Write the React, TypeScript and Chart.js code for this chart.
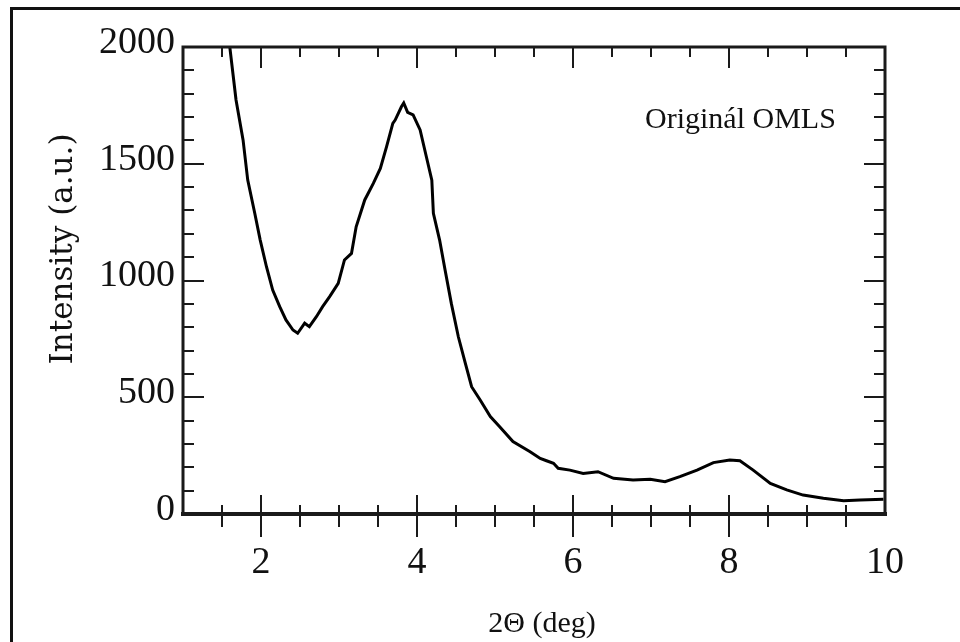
import React, { useEffect, useRef } from "react";
import { Chart, registerables } from "chart.js";

Chart.register(...registerables);

// 2Θ positions (deg)
const twoTheta = [
  1.6, 1.68, 1.77, 1.83, 1.92, 1.99, 2.07, 2.15, 2.24, 2.32, 2.41, 2.47, 2.56, 2.62, 2.71,
  2.79, 2.88, 2.99, 3.07, 3.16, 3.22, 3.33, 3.44, 3.53, 3.61, 3.69, 3.72, 3.8, 3.83, 3.88,
  3.95, 4.04, 4.12, 4.19, 4.21, 4.29, 4.36, 4.44, 4.53, 4.62, 4.7, 4.81, 4.94, 5.06, 5.23,
  5.45, 5.58, 5.66, 5.75, 5.81, 5.96, 6.13, 6.32, 6.52, 6.77, 6.99, 7.18, 7.37, 7.59, 7.8,
  8.01, 8.14, 8.31, 8.53, 8.74, 8.95, 9.21, 9.47, 9.68, 9.98,
];
// Intensity (a.u.)
const intensity = [
  2000, 1773, 1602, 1430, 1288, 1173, 1059, 959, 888, 831, 788, 774, 817, 802, 845,
  888, 931, 988, 1088, 1116, 1230, 1345, 1416, 1480, 1573, 1673, 1687, 1744, 1760, 1720,
  1709, 1645, 1530, 1430, 1288, 1173, 1045, 902, 759, 645, 545, 488, 417, 374, 310,
  267, 238, 228, 217, 196, 188, 174, 181, 153, 146, 149, 138, 160, 188, 220,
  231, 228, 188, 131, 103, 81, 67, 57, 60, 63,
];

const xTickValues = [2, 4, 6, 8, 10];
const yTickValues = [0, 500, 1000, 1500, 2000];
const xAxisTitle = "2Θ (deg)";
const yAxisTitle = "Intensity (a.u.)";
const annotationText = "Originál OMLS";

const SERIF = "'Liberation Serif', 'DejaVu Serif', serif";

export default function App() {
  const ref = useRef<HTMLCanvasElement | null>(null);

  useEffect(() => {
    if (!ref.current) return;

    const decor = {
      id: "decor",
      afterDraw(chart: any) {
        const { ctx, chartArea: a, scales } = chart;
        const xs = scales.x;
        const ys = scales.y;
        ctx.save();
        ctx.strokeStyle = "#1a1a1a";
        ctx.lineCap = "butt";

        // ticks
        ctx.lineWidth = 2;
        for (let k = 3; k < 20; k++) {
          const v = k / 2;
          const px = Math.round(xs.getPixelForValue(v));
          const major = v % 2 === 0;
          ctx.beginPath();
          ctx.moveTo(px, a.bottom - (major ? 19 : 9));
          ctx.lineTo(px, a.bottom + (major ? 23 : 13));
          ctx.stroke();
          ctx.beginPath();
          ctx.moveTo(px, a.top);
          ctx.lineTo(px, a.top + (major ? 21 : 10));
          ctx.stroke();
        }
        for (let v = 100; v < 2000; v += 100) {
          const py = Math.round(ys.getPixelForValue(v));
          const major = v % 500 === 0;
          const len = major ? 21 : 11;
          ctx.beginPath();
          ctx.moveTo(a.left, py);
          ctx.lineTo(a.left + len, py);
          ctx.stroke();
          ctx.beginPath();
          ctx.moveTo(a.right, py);
          ctx.lineTo(a.right - len, py);
          ctx.stroke();
        }

        // frame
        ctx.lineWidth = 3;
        ctx.strokeRect(a.left, a.top, a.right - a.left, a.bottom - a.top);
        ctx.lineWidth = 4;
        ctx.beginPath();
        ctx.moveTo(a.left - 2, a.bottom);
        ctx.lineTo(a.right + 2, a.bottom);
        ctx.stroke();

        // texts
        ctx.fillStyle = "#111";
        ctx.font = `30px ${SERIF}`;
        ctx.textAlign = "left";
        ctx.textBaseline = "alphabetic";
        ctx.fillText(annotationText, 645, 128);

        ctx.textAlign = "center";
        ctx.fillText(xAxisTitle, 542, 632);

        ctx.font = `31px 'DejaVu Serif', 'Liberation Serif', serif`;
        ctx.translate(64, 249);
        ctx.rotate(-Math.PI / 2);
        ctx.textBaseline = "middle";
        ctx.fillText(yAxisTitle, 0, 0);
        ctx.restore();
      },
    };

    const chart = new Chart(ref.current, {
      type: "line",
      data: {
        datasets: [
          {
            data: twoTheta.map((x, i) => ({ x, y: intensity[i] })),
            borderColor: "#000",
            borderWidth: 3,
            pointRadius: 0,
            tension: 0,
            fill: false,
          },
        ],
      },
      options: {
        animation: false,
        responsive: false,
        maintainAspectRatio: false,
        layout: { padding: { top: 47, right: 75, left: 0, bottom: 0 } },
        plugins: { legend: { display: false }, tooltip: { enabled: false } },
        scales: {
          x: {
            type: "linear",
            min: 1,
            max: 10,
            grid: { display: false, drawTicks: false },
            border: { display: false },
            afterBuildTicks: (s: any) => {
              s.ticks = xTickValues.map((value) => ({ value }));
            },
            afterFit: (s: any) => {
              s.height = 128;
            },
            ticks: {
              padding: 26,
              maxRotation: 0,
              autoSkip: false,
              color: "#111",
              font: { family: SERIF, size: 38 },
              callback: (v: any) => String(v),
            },
          },
          y: {
            type: "linear",
            min: 0,
            max: 2000,
            grid: { display: false, drawTicks: false },
            border: { display: false },
            afterBuildTicks: (s: any) => {
              s.ticks = yTickValues.map((value) => ({ value }));
            },
            afterFit: (s: any) => {
              s.width = 183;
            },
            ticks: {
              padding: 8,
              labelOffset: -4,
              autoSkip: false,
              color: "#111",
              font: { family: SERIF, size: 38 },
              callback: (v: any) => String(v),
            },
          },
        },
      },
      plugins: [decor],
    });
    return () => chart.destroy();
  }, []);

  return (
    <div style={{ position: "absolute", left: 0, top: 0, width: 960, height: 642, background: "#fff" }}>
      <div
        style={{
          position: "absolute",
          left: 10,
          top: 7,
          right: 0,
          bottom: 0,
          borderTop: "3px solid #111",
          borderLeft: "3px solid #111",
        }}
      />
      <canvas
        ref={ref}
        width={960}
        height={642}
        style={{ position: "absolute", left: 0, top: 0, width: 960, height: 642 }}
      />
    </div>
  );
}
